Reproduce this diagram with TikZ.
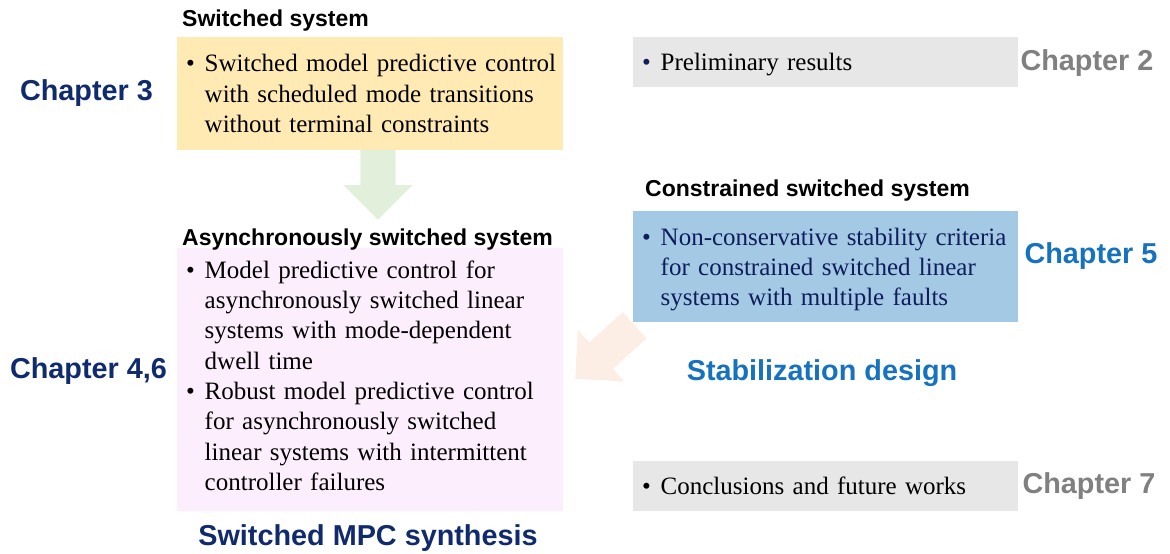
\documentclass[tikz,border=0pt]{standalone}
\usepackage{fontspec}
\setmainfont{Liberation Serif}
\setsansfont{Liberation Sans}
\usepackage{tikz}
\usetikzlibrary{positioning, shapes.arrows}

\definecolor{chapnavy}{RGB}{16,42,110}
\definecolor{chapgray}{RGB}{128,128,128}
\definecolor{chapblue}{RGB}{22,114,190}
\definecolor{boxyellow}{RGB}{255,234,180}
\definecolor{boxpink}{RGB}{252,238,252}
\definecolor{boxblue}{RGB}{163,201,229}
\definecolor{boxgray}{RGB}{231,231,231}
\definecolor{textnavy}{RGB}{15,30,90}
\definecolor{arrgreen}{RGB}{226,239,218}
\definecolor{arrorange}{RGB}{252,238,228}

% bullet with hanging indent, and vertical nudges for box texts
\newcommand{\bitem}[1][black]{\hangindent=22pt\hangafter=1\noindent\makebox[22pt][l]{\hspace{3.5pt}\textcolor{#1}{\textbullet}}}
\newcommand{\vpad}[1]{\par\nointerlineskip\hrule height 0pt depth #1 width 0pt\nointerlineskip}
\newcommand{\toppad}[1]{\hrule height #1 width 0pt\nointerlineskip}

\begin{document}
\begin{tikzpicture}[
        x=1pt, y=-1pt,
        textbox/.style={rectangle, align=left, text width=375pt, inner xsep=5.5pt, inner ysep=0pt, font={\fontsize{25}{30.3}\selectfont}},
        headtext/.style={font=\sffamily\bfseries\fontsize{23}{26}\selectfont, inner sep=0pt},
        chaptext/.style={font=\sffamily\bfseries\fontsize{28.8}{32}\selectfont, inner sep=0pt},
        bigarrow/.style={single arrow, inner xsep=0pt, inner ysep=17.5pt, single arrow head extend=17pt, draw=none}
    ]
    \useasboundingbox (0,0) rectangle (1170,554);

    % left column
    \node[textbox, fill=boxyellow, minimum height=113pt, anchor=north west] (smpc) at (177,37) {\bitem Switched model predictive control\newline with scheduled mode transitions\newline without terminal constraints\par};
    \node[textbox, fill=boxpink, minimum height=263pt, anchor=north west] (async) at (177,248) {\bitem Model predictive control for\newline asynchronously switched linear\newline systems with mode-dependent\newline dwell time\par
        \bitem Robust model predictive control\newline for asynchronously switched\newline linear systems with intermittent\newline controller failures\vpad{8pt}};

    \node[headtext, anchor=base west] (h1) at (182,27) {Switched system};
    \node[headtext, anchor=base west] (h2) at (182,245) {Asynchronously switched system};

    \node[chaptext, text=chapnavy] (c3) at (86.5,93) {Chapter 3};
    \node[chaptext, text=chapnavy] (c46) at (88.5,371) {Chapter 4,6};
    \node[chaptext, text=chapnavy] (mpc) at (368,538) {Switched MPC synthesis};

    % right column
    \node[textbox, fill=boxgray, text width=374pt, minimum height=50pt, anchor=north west] (prelim) at (633,37) {\toppad{4pt}\bitem[textnavy]Preliminary results\par};
    \node[textbox, fill=boxblue, text width=374pt, text=textnavy, minimum height=111pt, anchor=north west] (crit) at (633,211) {\toppad{6pt}
        \bitem[textnavy]Non-conservative stability criteria\newline for constrained switched linear\newline systems with multiple faults\par};
    \node[textbox, fill=boxgray, text width=374pt, minimum height=50pt, anchor=north west] (concl) at (633,461) {\bitem Conclusions and future works\par};

    \node[headtext, anchor=base west] (h3) at (645,196) {Constrained switched system};

    \node[chaptext, text=chapgray] (c2) at (1087,63) {Chapter 2};
    \node[chaptext, text=chapblue] (c5) at (1091,256) {Chapter 5};
    \node[chaptext, text=chapgray] (c7) at (1089,486) {Chapter 7};
    \node[chaptext, text=chapblue] (stab) at (822,373) {Stabilization design};

    % block arrows
    \node[bigarrow, fill=arrgreen, minimum height=70pt, rotate=-90, anchor=tip] (down) at (378,220) {};
    \node[bigarrow, fill=arrorange, minimum height=80pt, rotate=222, anchor=tip] (diag) at (575,379) {};

\end{tikzpicture}
\end{document}
